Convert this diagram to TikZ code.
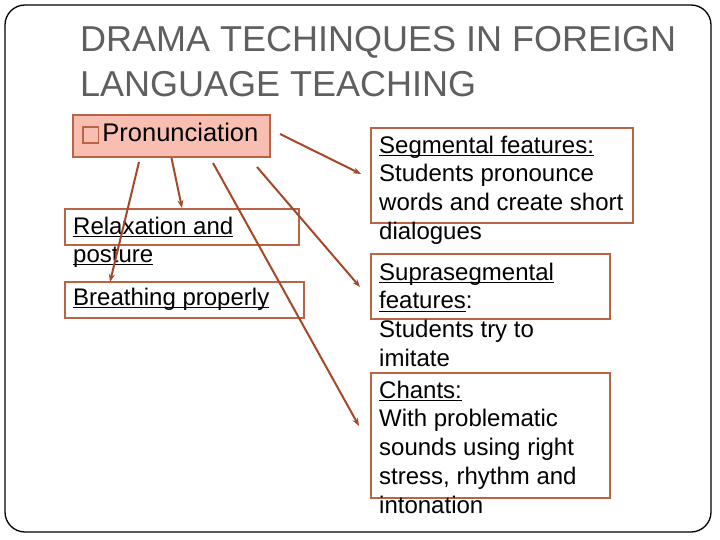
\documentclass[tikz,border=0pt]{standalone}
\usepackage{fontspec}
\setmainfont{Liberation Sans}
\usetikzlibrary{arrows.meta}
\definecolor{titlegray}{RGB}{95,95,95}
\definecolor{boxline}{RGB}{185,100,70}
\definecolor{boxfill}{RGB}{248,190,178}
\definecolor{arrowbrown}{RGB}{165,72,40}
\newcommand{\bodyfont}{\fontsize{24}{28.8}\selectfont}
\newcommand{\titlefont}{\fontsize{36}{45}\selectfont}
\newsavebox{\ulnbox}
\newcommand{\uln}[1]{\sbox{\ulnbox}{#1}\rlap{\rule[-3pt]{\wd\ulnbox}{1.3pt}}\usebox{\ulnbox}}
\newcommand{\emptybullet}{\textcolor{boxline}{\setlength{\fboxrule}{1.6pt}\setlength{\fboxsep}{0pt}%
  \fbox{\rule{0pt}{14pt}\hspace{14pt}}}\hspace{3pt}}

\begin{document}
\begin{tikzpicture}[x=1pt, y=-1pt,
    box/.style={draw=boxline, line width=2pt, anchor=north west, inner sep=0pt},
    txt/.style={anchor=base west, align=left, inner sep=0pt, font=\bodyfont},
    link/.style={draw=arrowbrown, line width=2pt, -{Stealth[length=8pt,width=6pt]}}]
    \useasboundingbox (0,0) rectangle (720,540);
    \draw[line width=1.3pt, rounded corners=20pt] (5,5) rectangle (711,532);

    % multi-line texts sit on the baseline of their last line
    \node[anchor=base west, align=left, inner sep=0pt, font=\titlefont, text=titlegray]
      (title) at (80,97) {DRAMA TECHINQUES IN FOREIGN\\LANGUAGE TEACHING};

    % boxes
    \node[box, fill=boxfill, minimum width=197pt, minimum height=42pt] (pron) at (72,114) {};
    \node[box, minimum width=234pt, minimum height=36pt] (relax) at (64,208) {};
    \node[box, minimum width=239pt, minimum height=36pt] (breath) at (64,281) {};
    \node[box, minimum width=262pt, minimum height=95pt] (seg) at (370,127) {};
    \node[box, minimum width=239pt, minimum height=65pt] (supra) at (370,253) {};
    \node[box, minimum width=239pt, minimum height=125pt] (chant) at (370,372) {};

    % texts
    \node[txt, font=\fontsize{25.5}{30}\selectfont] (prontxt) at (82,142)
      {\emptybullet Pronunciation};
    \node[txt, font=\fontsize{24}{28}\selectfont] (relaxtxt) at (73,262)
      {\uln{Relaxation and}\\\uln{posture}};
    \node[txt] (breathtxt) at (73,305) {\uln{Breathing properly}};
    \node[txt] (segtxt) at (379,239.4)
      {\uln{Segmental features:}\\Students pronounce\\words and create short\\dialogues};
    \node[txt] (supratxt) at (379,366.4)
      {\uln{Suprasegmental}\\\uln{features}:\\Students try to\\imitate};
    \node[txt] (chanttxt) at (379,513.2)
      {\uln{Chants:}\\With problematic\\sounds using right\\stress, rhythm and\\intonation};

    % arrow ends
    \coordinate (segtail) at (280,134);
    \coordinate (seghead) at (361,174);
    \coordinate (supratail) at (257,167);
    \coordinate (suprahead) at (360,287);
    \coordinate (chanttail) at (213,163);
    \coordinate (chanthead) at (359,426);
    \coordinate (breathtail) at (139,162);
    \coordinate (breathhead) at (110,282);

    \draw[link] (pron.south) -- (relax.north);
    \draw[link] (breathtail) -- (breathhead);
    \draw[link] (segtail) -- (seghead);
    \draw[link] (supratail) -- (suprahead);
    \draw[link] (chanttail) -- (chanthead);
\end{tikzpicture}
\end{document}
